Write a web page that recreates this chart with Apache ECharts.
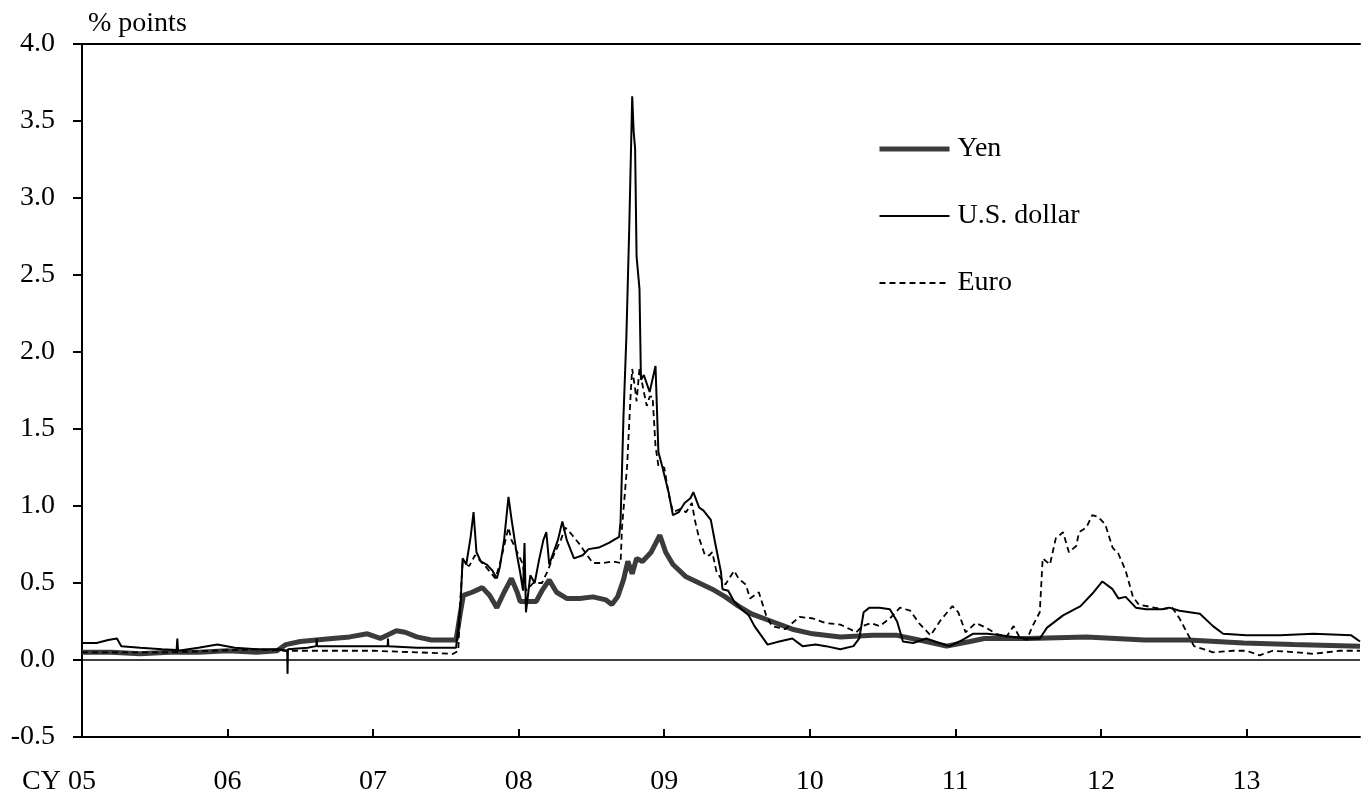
<!DOCTYPE html>
<html>
<head>
<meta charset="utf-8">
<script src="https://cdn.jsdelivr.net/npm/echarts@6/dist/echarts.min.js"></script>
<style>
html,body{margin:0;padding:0;background:#fff;}
#chart{width:1362px;height:793px;}
</style>
</head>
<body>
<div id="chart"></div>
<script>
// ---- Data (x = decimal calendar year) ----
const yearTicks = ['CY 05','06','07','08','09','10','11','12','13'];

const yenT = [2005.00,2005.20,2005.40,2005.60,2005.80,2006.00,2006.20,2006.34,2006.40,2006.50,2006.61,2006.72,2006.84,2006.96,2007.05,2007.16,2007.22,2007.30,2007.40,2007.48,2007.57,2007.60,2007.62,2007.68,2007.75,2007.80,2007.85,2007.90,2007.95,2007.99,2008.01,2008.06,2008.12,2008.16,2008.21,2008.26,2008.33,2008.42,2008.51,2008.60,2008.64,2008.68,2008.72,2008.75,2008.78,2008.81,2008.85,2008.91,2008.97,2009.01,2009.06,2009.15,2009.24,2009.33,2009.42,2009.51,2009.60,2009.74,2009.88,2010.02,2010.21,2010.43,2010.60,2010.80,2010.94,2011.10,2011.20,2011.50,2011.90,2012.30,2012.60,2012.98,2013.32,2013.78];
const yenV = [0.05,0.05,0.04,0.05,0.05,0.06,0.05,0.06,0.10,0.12,0.13,0.14,0.15,0.17,0.14,0.19,0.18,0.15,0.13,0.13,0.13,0.31,0.42,0.44,0.47,0.42,0.34,0.44,0.53,0.44,0.38,0.38,0.38,0.45,0.52,0.44,0.40,0.40,0.41,0.39,0.36,0.41,0.52,0.64,0.56,0.66,0.64,0.70,0.81,0.70,0.62,0.54,0.50,0.46,0.41,0.35,0.30,0.25,0.20,0.17,0.15,0.16,0.16,0.12,0.09,0.12,0.14,0.14,0.15,0.13,0.13,0.11,0.10,0.09];

const usdT = [2005.00,2005.10,2005.18,2005.24,2005.27,2005.40,2005.55,2005.65,2005.655,2005.66,2005.80,2005.93,2006.05,2006.20,2006.35,2006.41,2006.412,2006.415,2006.55,2006.61,2006.612,2006.615,2006.80,2007.00,2007.10,2007.102,2007.105,2007.30,2007.50,2007.57,2007.60,2007.615,2007.64,2007.67,2007.69,2007.71,2007.74,2007.78,2007.82,2007.85,2007.87,2007.90,2007.93,2007.95,2007.985,2008.01,2008.03,2008.04,2008.05,2008.08,2008.11,2008.14,2008.17,2008.19,2008.21,2008.24,2008.27,2008.30,2008.33,2008.38,2008.44,2008.48,2008.55,2008.62,2008.69,2008.70,2008.72,2008.74,2008.76,2008.78,2008.79,2008.80,2008.81,2008.83,2008.84,2008.86,2008.90,2008.94,2008.96,2008.98,2009.03,2009.06,2009.10,2009.14,2009.18,2009.20,2009.24,2009.27,2009.32,2009.35,2009.39,2009.40,2009.44,2009.48,2009.53,2009.58,2009.62,2009.68,2009.71,2009.79,2009.88,2009.95,2010.04,2010.11,2010.21,2010.30,2010.34,2010.37,2010.41,2010.48,2010.55,2010.60,2010.64,2010.71,2010.80,2010.89,2010.96,2011.05,2011.12,2011.22,2011.31,2011.40,2011.49,2011.58,2011.63,2011.74,2011.86,2011.95,2012.01,2012.08,2012.12,2012.17,2012.24,2012.31,2012.42,2012.47,2012.54,2012.68,2012.77,2012.84,2013.00,2013.23,2013.46,2013.72,2013.78];
const usdV = [0.11,0.11,0.13,0.14,0.09,0.08,0.07,0.065,0.14,0.06,0.08,0.10,0.08,0.07,0.07,0.06,-0.09,0.07,0.08,0.09,0.14,0.09,0.09,0.09,0.09,0.14,0.09,0.08,0.08,0.08,0.35,0.66,0.62,0.80,0.96,0.70,0.64,0.62,0.58,0.53,0.60,0.78,1.06,0.92,0.70,0.57,0.45,0.76,0.31,0.55,0.50,0.65,0.78,0.83,0.62,0.70,0.78,0.90,0.78,0.66,0.68,0.72,0.73,0.76,0.80,0.90,1.58,2.10,2.82,3.66,3.43,3.32,2.62,2.41,1.82,1.85,1.74,1.91,1.35,1.28,1.09,0.94,0.96,1.02,1.05,1.09,0.99,0.97,0.91,0.76,0.57,0.46,0.45,0.38,0.33,0.29,0.22,0.14,0.10,0.12,0.14,0.09,0.10,0.09,0.07,0.09,0.14,0.31,0.34,0.34,0.33,0.25,0.12,0.11,0.14,0.11,0.09,0.13,0.17,0.17,0.16,0.15,0.14,0.14,0.21,0.29,0.35,0.44,0.51,0.46,0.40,0.41,0.34,0.33,0.33,0.34,0.32,0.30,0.22,0.17,0.16,0.16,0.17,0.16,0.12];

const eurT = [2005.00,2005.30,2005.60,2005.90,2006.20,2006.40,2006.70,2007.00,2007.30,2007.55,2007.585,2007.60,2007.615,2007.66,2007.70,2007.77,2007.84,2007.87,2007.91,2007.93,2007.95,2007.99,2008.03,2008.05,2008.10,2008.16,2008.20,2008.24,2008.29,2008.32,2008.36,2008.42,2008.47,2008.51,2008.58,2008.65,2008.70,2008.71,2008.745,2008.77,2008.78,2008.80,2008.81,2008.83,2008.86,2008.88,2008.90,2008.92,2008.94,2008.96,2009.00,2009.03,2009.06,2009.11,2009.15,2009.19,2009.21,2009.24,2009.28,2009.31,2009.33,2009.36,2009.42,2009.48,2009.51,2009.56,2009.59,2009.65,2009.70,2009.74,2009.83,2009.93,2010.02,2010.11,2010.21,2010.32,2010.36,2010.42,2010.48,2010.55,2010.62,2010.69,2010.75,2010.79,2010.83,2010.90,2010.98,2011.02,2011.07,2011.14,2011.21,2011.28,2011.35,2011.40,2011.44,2011.49,2011.53,2011.58,2011.60,2011.65,2011.69,2011.74,2011.78,2011.83,2011.85,2011.90,2011.94,2011.98,2012.03,2012.08,2012.12,2012.17,2012.22,2012.26,2012.42,2012.49,2012.54,2012.59,2012.64,2012.77,2012.91,2013.00,2013.09,2013.18,2013.34,2013.46,2013.64,2013.78];
const eurV = [0.05,0.05,0.05,0.06,0.07,0.06,0.06,0.06,0.05,0.04,0.06,0.40,0.63,0.61,0.68,0.61,0.53,0.62,0.78,0.86,0.78,0.70,0.62,0.45,0.50,0.50,0.58,0.68,0.78,0.86,0.82,0.75,0.68,0.63,0.63,0.64,0.63,0.86,1.26,1.74,1.89,1.76,1.68,1.89,1.74,1.65,1.71,1.71,1.39,1.26,1.25,1.08,0.96,0.98,0.96,1.02,0.91,0.79,0.68,0.68,0.70,0.57,0.49,0.58,0.53,0.49,0.40,0.44,0.29,0.22,0.20,0.28,0.27,0.24,0.23,0.18,0.22,0.24,0.22,0.27,0.34,0.32,0.24,0.20,0.16,0.26,0.35,0.31,0.18,0.24,0.21,0.17,0.15,0.22,0.15,0.13,0.22,0.31,0.66,0.62,0.79,0.83,0.70,0.74,0.83,0.86,0.94,0.93,0.88,0.73,0.69,0.58,0.41,0.36,0.33,0.34,0.27,0.18,0.09,0.05,0.06,0.06,0.03,0.06,0.05,0.04,0.06,0.06];

const zip = (t, v) => t.map((x, i) => [x, v[i]]);
const FONT = "'Liberation Serif', 'Times New Roman', serif";
const FS = 28;

const chart = echarts.init(document.getElementById('chart'), null, {renderer: 'canvas'});
chart.setOption({
  animation: false,
  backgroundColor: '#ffffff',
  textStyle: {fontFamily: FONT},
  grid: {left: 82, right: 2, top: 44, bottom: 56, containLabel: false, outerBoundsMode: 'none'},
  graphic: [{
    type: 'text', left: 88, top: 10,
    style: {text: '% points', font: FS + "px " + FONT, fill: '#000'}
  }],
  legend: {
    orient: 'vertical', left: 877, top: 135, padding: 0,
    itemWidth: 70, itemHeight: 14, itemGap: 39,
    data: [
      {name: 'Yen', itemStyle: {opacity: 0}, lineStyle: {color: '#3b3b3b', width: 5, type: 'solid'}},
      {name: 'U.S. dollar', itemStyle: {opacity: 0}, lineStyle: {color: '#000', width: 2, type: 'solid'}},
      {name: 'Euro', itemStyle: {opacity: 0}, lineStyle: {color: '#000', width: 1.8, type: [6, 4]}}
    ],
    textStyle: {fontFamily: FONT, fontSize: FS, color: '#000', padding: [0,0,0,3]}
  },
  xAxis: [{
    type: 'value', min: 2005, max: 2013.78, interval: 1,
    position: 'bottom',
    axisLine: {show: true, onZero: false, lineStyle: {color: '#000', width: 2}},
    axisTick: {show: true, inside: true, length: 8, lineStyle: {color: '#000', width: 2}},
    splitLine: {show: false},
    axisLabel: {
      margin: 31, fontFamily: FONT, fontSize: FS, color: '#000',
      showMaxLabel: false,
      formatter: v => {
        const i = Math.round(v - 2005);
        if (i === 0) return '{cy|CY }' + '05' + '{pad|}';
        return yearTicks[i] || '';
      },
      rich: {
        cy: {fontFamily: FONT, fontSize: FS, color: '#000'},
        pad: {width: 46}
      }
    }
  }, {
    type: 'value', min: 2005, max: 2013.78, position: 'top',
    axisLine: {show: true, onZero: false, lineStyle: {color: '#000', width: 2}},
    axisTick: {show: false}, axisLabel: {show: false}, splitLine: {show: false}
  }],
  yAxis: {
    type: 'value', min: -0.5, max: 4, interval: 0.5,
    axisLine: {show: true, onZero: false, lineStyle: {color: '#000', width: 2}},
    axisTick: {show: true, inside: false, length: 9, lineStyle: {color: '#000', width: 2}},
    splitLine: {show: false},
    axisLabel: {margin: 27, fontFamily: FONT, fontSize: FS, color: '#000',
      formatter: v => v.toFixed(1)}
  },
  series: [
    {
      name: 'Yen', type: 'line', data: zip(yenT, yenV), symbol: 'none', z: 2,
      lineStyle: {color: '#3b3b3b', width: 5}, itemStyle: {color: '#3b3b3b'},
      markLine: {
        silent: true, symbol: 'none', label: {show: false},
        lineStyle: {color: '#000', width: 1.5, type: 'solid'},
        data: [{yAxis: 0}]
      }
    },
    {
      name: 'U.S. dollar', type: 'line', data: zip(usdT, usdV), symbol: 'none', z: 4,
      lineStyle: {color: '#000', width: 2}, itemStyle: {color: '#000'}
    },
    {
      name: 'Euro', type: 'line', data: zip(eurT, eurV), symbol: 'none', z: 3,
      lineStyle: {color: '#000', width: 1.8, type: [6, 4]}, itemStyle: {color: '#000'}
    }
  ]
});
</script>
</body>
</html>
